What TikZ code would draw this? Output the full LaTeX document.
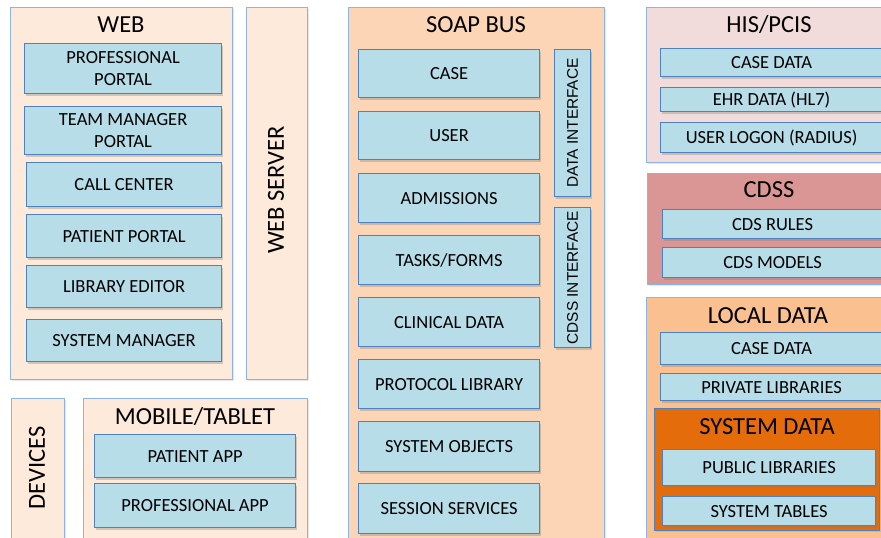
\documentclass[tikz,border=0pt]{standalone}
\usepackage{fontspec}
\setmainfont{Carlito}
\newfontfamily\ifacefont{Liberation Sans}
\usetikzlibrary{shadows}

\definecolor{itemblue}{HTML}{B7DDE8}
\definecolor{itemline}{HTML}{4F81BD}
\definecolor{groupline}{HTML}{8EB4E3}
\definecolor{peach}{HTML}{FDEADA}
\definecolor{soapfill}{HTML}{FBD5B5}
\definecolor{hisfill}{HTML}{F2DCDB}
\definecolor{cdssfill}{HTML}{D99694}
\definecolor{localfill}{HTML}{FAC090}
\definecolor{sysfill}{HTML}{E46C0A}

\tikzset{
  groupbox/.style={draw=groupline, line width=1.2pt, anchor=north west, inner sep=0pt,
    drop shadow={shadow xshift=1pt, shadow yshift=-1.5pt, opacity=0.2}},
  itembox/.style={draw=itemline, fill=itemblue, line width=1.2pt, anchor=north west,
    inner sep=0pt, align=center, text=black, font=\fontsize{18.5}{22}\selectfont,
    drop shadow={shadow xshift=1.5pt, shadow yshift=-2pt, opacity=0.35}},
  grouptitle/.style={inner sep=0pt, text=black, font=\fontsize{24.5}{28}\selectfont},
}

\begin{document}
\begin{tikzpicture}[x=1pt, y=-1pt]
  \useasboundingbox (0,0) rectangle (881,538);
  \clip (0,0) rectangle (881,538);

  % left column
  \node (web) [groupbox, fill=peach, minimum width=222pt, minimum height=372pt] at (10,7) {};
  \node (web-server) [groupbox, fill=peach, minimum width=61pt, minimum height=372pt] at (246,7) {};
  \node (devices) [groupbox, fill=peach, minimum width=53pt, minimum height=160pt] at (11,398) {};
  \node (mobile) [groupbox, fill=peach, minimum width=224pt, minimum height=160pt] at (83,398) {};

  \node (web-title) [grouptitle] at (121,25) {WEB};
  \node (web-server-title) [grouptitle, rotate=90] at (276,190) {WEB SERVER};
  \node (devices-title) [grouptitle, rotate=90] at (37,468) {DEVICES};
  \node (mobile-title) [grouptitle] at (195,417) {MOBILE/TABLET};

  \node (pro-portal) [itembox, minimum width=197pt, minimum height=50pt] at (24,43) {PROFESSIONAL\\PORTAL};
  \node (team-portal) [itembox, minimum width=197pt, minimum height=48pt] at (24,106) {TEAM MANAGER\\PORTAL};
  \node (call-center) [itembox, minimum width=195pt, minimum height=44pt] at (26,162) {CALL CENTER};
  \node (patient-portal) [itembox, minimum width=195pt, minimum height=43pt] at (26,214) {PATIENT PORTAL};
  \node (library-editor) [itembox, minimum width=195pt, minimum height=42pt] at (26,265) {LIBRARY EDITOR};
  \node (system-manager) [itembox, minimum width=195pt, minimum height=42pt] at (26,319) {SYSTEM MANAGER};

  \node (patient-app) [itembox, minimum width=201pt, minimum height=43pt] at (94,434) {PATIENT APP};
  \node (pro-app) [itembox, minimum width=201pt, minimum height=44pt] at (94,483) {PROFESSIONAL APP};

  % soap bus
  \node (soap) [groupbox, fill=soapfill, minimum width=256pt, minimum height=560pt] at (348,7) {};
  \node (soap-title) [grouptitle] at (476,25) {SOAP BUS};

  \node (case) [itembox, minimum width=181pt, minimum height=48pt] at (358,49) {CASE};
  \node (user) [itembox, minimum width=181pt, minimum height=48pt] at (358,111) {USER};
  \node (admissions) [itembox, minimum width=181pt, minimum height=49pt] at (358,173) {ADMISSIONS};
  \node (tasks) [itembox, minimum width=181pt, minimum height=49pt] at (358,235) {TASKS/FORMS};
  \node (clinical) [itembox, minimum width=181pt, minimum height=49pt] at (358,297) {CLINICAL DATA};
  \node (protocol) [itembox, minimum width=181pt, minimum height=49pt] at (358,359) {PROTOCOL LIBRARY};
  \node (sys-objects) [itembox, minimum width=181pt, minimum height=50pt] at (358,421) {SYSTEM OBJECTS};
  \node (session) [itembox, minimum width=181pt, minimum height=50pt] at (358,483) {SESSION SERVICES};

  \node (data-if) [itembox, minimum width=36pt, minimum height=147pt, font=\ifacefont\fontsize{15.4}{17}\selectfont] at (554,49) {\rotatebox{90}{DATA INTERFACE}};
  \node (cdss-if) [itembox, minimum width=36pt, minimum height=140pt, font=\ifacefont\fontsize{15.4}{17}\selectfont] at (554,207) {\rotatebox{90}{CDSS INTERFACE}};

  % right column
  \node (his) [groupbox, fill=hisfill, minimum width=246pt, minimum height=155pt] at (646,7) {};
  \node (his-title) [grouptitle] at (769,25) {HIS/PCIS};
  \node (his-case) [itembox, minimum width=222pt, minimum height=28pt] at (660,48) {CASE DATA};
  \node (ehr) [itembox, minimum width=222pt, minimum height=24pt] at (660,87) {EHR DATA (HL7)};
  \node (logon) [itembox, minimum width=222pt, minimum height=30pt] at (660,122) {USER LOGON (RADIUS)};

  \node (cdss) [groupbox, fill=cdssfill, minimum width=245pt, minimum height=111pt] at (647,173) {};
  \node (cdss-title) [grouptitle] at (769,190) {CDSS};
  \node (cds-rules) [itembox, minimum width=220pt, minimum height=29pt] at (662,209) {CDS RULES};
  \node (cds-models) [itembox, minimum width=220pt, minimum height=30pt] at (662,247) {CDS MODELS};

  \node (local) [groupbox, fill=localfill, minimum width=246pt, minimum height=260pt] at (646,297) {};
  \node (local-title) [grouptitle] at (768,316) {LOCAL DATA};
  \node (local-case) [itembox, minimum width=222pt, minimum height=32pt] at (660,332) {CASE DATA};
  \node (private-lib) [itembox, minimum width=222pt, minimum height=27pt] at (660,373) {PRIVATE LIBRARIES};

  \node (sys-data) [groupbox, draw=itemline, fill=sysfill, minimum width=225pt, minimum height=122pt] at (654,408) {};
  \node (sys-data-title) [grouptitle] at (767,427) {SYSTEM DATA};
  \node (public-lib) [itembox, minimum width=213pt, minimum height=36pt] at (662,449) {PUBLIC LIBRARIES};
  \node (sys-tables) [itembox, minimum width=213pt, minimum height=29pt] at (662,496) {SYSTEM TABLES};
\end{tikzpicture}
\end{document}
